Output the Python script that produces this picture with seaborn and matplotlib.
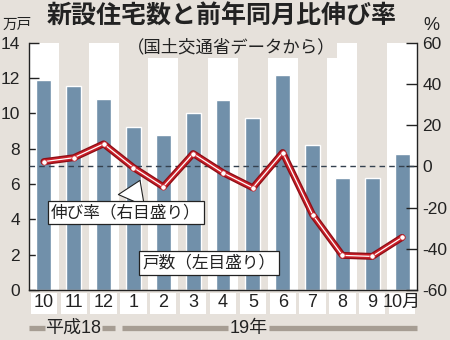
import matplotlib
matplotlib.use("Agg")
import matplotlib.pyplot as plt
from matplotlib.patches import Rectangle
from matplotlib.lines import Line2D
from matplotlib.transforms import blended_transform_factory
import pandas as pd
import seaborn as sns

# Housing starts (10k units) and year-on-year change (%), Oct 2006 - Oct 2007
months = ["10", "11", "12", "1", "2", "3", "4", "5", "6", "7", "8", "9", "10月"]
housing_starts = [11.88, 11.57, 10.81, 9.2, 8.78, 10.0, 10.76, 9.73, 12.18, 8.21, 6.32, 6.32, 7.72]
yoy_change = [2.3, 4.2, 10.9, -0.6, -9.9, 6.2, -3.1, -10.4, 6.7, -23.4, -43.2, -43.7, -34.5]
left_ticks = [0, 2, 4, 6, 8, 10, 12, 14]
right_ticks = [-60, -40, -20, 0, 20, 40, 60]
right_tick_labels = ["-60", "-40", "-20", "0", "20", "40", "60"]

BG = "#e6e1db"
BAR = "#7190aa"
RED_DARK = "#8e0e16"
RED = "#c81f28"
INK = "#222222"
BRACKET = "#a69d93"
JP = ["Noto Sans CJK JP", "DejaVu Sans"]
NUM = ["Liberation Sans", "Noto Sans CJK JP", "DejaVu Sans"]

sns.set_theme(style="white")
plt.rcParams["font.family"] = NUM

df = pd.DataFrame({"month": months, "starts": housing_starts,
                   "pos": range(len(months)), "yoy": yoy_change})

W, H = 450, 340
fig = plt.figure(figsize=(W / 100, H / 100), dpi=100, facecolor=BG)
ax = fig.add_axes([29 / W, 1 - 290 / H, (417 - 29) / W, (290 - 42.7) / H])
ax.set_facecolor(BG)

# alternating white column bands
for i in range(len(months)):
    if i % 2 == 0:
        ax.axvspan(i - 0.5, i + 0.5, color="white", zorder=0, lw=0)

sns.barplot(data=df, x="month", y="starts", order=months, color=BAR,
            saturation=1, width=0.5, ax=ax, zorder=2)
ax.set_xlim(-0.5, len(months) - 0.5)
ax.set_ylim(0, 14)
ax.set_yticks(left_ticks)
ax.set_yticklabels([str(t) for t in left_ticks])
ax.set_xlabel("")
ax.set_ylabel("")
for s in ["top", "right"]:
    ax.spines[s].set_visible(False)
for s in ["left", "bottom"]:
    ax.spines[s].set_color(INK)
    ax.spines[s].set_linewidth(1)
ax.tick_params(axis="y", direction="in", length=7, width=1, color=INK,
               labelsize=12.5, labelcolor=INK, pad=6.5, left=True)
ax.tick_params(axis="x", length=0, labelsize=13, labelcolor=INK, pad=3)

# white label plates under the month labels
bt = blended_transform_factory(ax.transData, ax.transAxes)
for i in range(len(months)):
    ax.add_patch(Rectangle((i - 0.44, -0.097), 0.88, 0.085, transform=bt,
                           facecolor="white", edgecolor="none", clip_on=False, zorder=0))

ax2 = ax.twinx()
ax2.set_ylim(-60, 60)
ax2.set_yticks(right_ticks)
ax2.set_yticklabels(right_tick_labels)
for s in ["top", "left", "bottom"]:
    ax2.spines[s].set_visible(False)
ax2.spines["right"].set_color(INK)
ax2.spines["right"].set_linewidth(1)
ax2.tick_params(axis="y", direction="in", length=8, width=1, color=INK,
                labelsize=12.5, labelcolor=INK, pad=4, right=True)
ax2.grid(False)
ax2.axhline(0, color="#34414f", lw=1, ls=(0, (4, 3)), zorder=1)

# growth-rate line: dark rim, red body, white core
sns.lineplot(data=df, x="pos", y="yoy", ax=ax2, color=RED_DARK, lw=5.0, zorder=3)
sns.lineplot(data=df, x="pos", y="yoy", ax=ax2, color=RED, lw=3.2, zorder=4)
sns.lineplot(data=df, x="pos", y="yoy", ax=ax2, color="white", lw=0.9, zorder=5,
             marker="o", markersize=3.8, markerfacecolor="white",
             markeredgecolor=RED, markeredgewidth=0.5)
ax2.set_xlabel("")
ax2.set_ylabel("")
ax2.set_xlim(-0.5, len(months) - 0.5)

box = dict(boxstyle="square,pad=0.2", fc="white", ec=INK, lw=0.9)
ax2.annotate("伸び率（右目盛り）", xy=(3.22, -6.8), xytext=(2.75, -22.4),
             ha="center", va="center", fontsize=12, family=JP, color=INK,
             bbox=box, zorder=6,
             arrowprops=dict(arrowstyle="wedge,tail_width=1.7,shrink_factor=0.5",
                             fc="white", ec=INK, lw=0.8, shrinkA=0, shrinkB=0))
ax2.text(5.53, -46.8, "戸数（左目盛り）", ha="center", va="center", fontsize=12,
         family=JP, color=INK, bbox=box, zorder=6)

# titles and unit labels
fig.text(221.5 / W, 1 - 16.5 / H, "新設住宅数と前年同月比伸び率", ha="center", va="center",
         fontsize=18, family=JP, weight="bold", color=INK)
fig.text(231 / W, 1 - 47.5 / H, "（国土交通省データから）", ha="center", va="center",
         fontsize=12.5, family=JP, color=INK,
         bbox=dict(boxstyle="square,pad=0.1", fc=BG, ec="none"))
fig.text(17.5 / W, 1 - 25 / H, "万戸", ha="center", va="center", fontsize=10.5,
         family=JP, color=INK)
fig.text(431 / W, 1 - 25 / H, "%", ha="center", va="center", fontsize=13, color=INK)

# era brackets under the month axis
yb = 1 - 328 / H
for x0, x1 in [(29, 45), (102, 115), (122, 228), (269, 417)]:
    fig.add_artist(Line2D([x0 / W, x1 / W], [yb, yb], color=BRACKET, lw=3.8,
                          solid_capstyle="butt"))
fig.text(73 / W, yb, "平成18", ha="center", va="center", fontsize=13, color=INK,
         family=NUM)
fig.text(248.5 / W, yb, "19年", ha="center", va="center", fontsize=13, color=INK,
         family=NUM)

fig.savefig("out.png", dpi=100, facecolor=BG)
